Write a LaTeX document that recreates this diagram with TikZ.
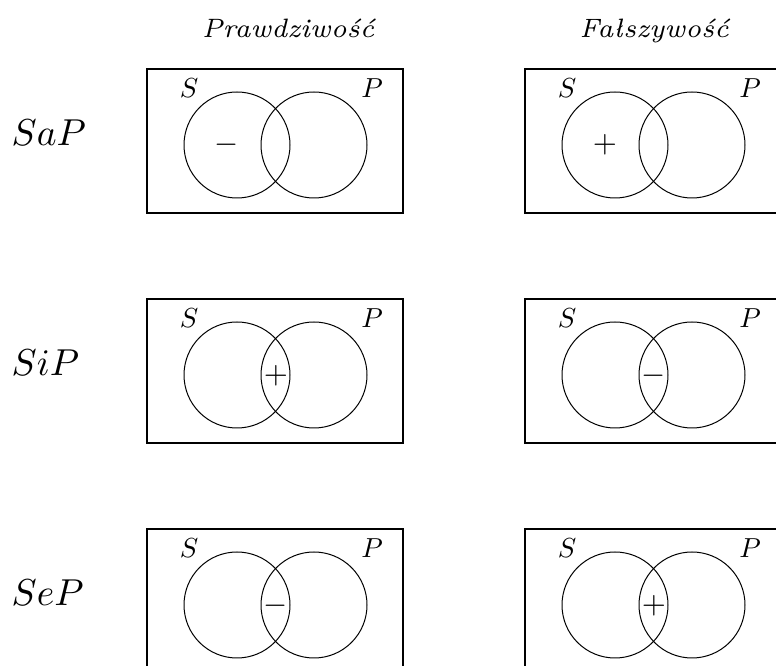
\documentclass[tikz,border=0pt]{standalone}
\begin{document}
\begin{tikzpicture}[x=1pt,y=1pt,
  frame/.style={draw=black,line width=1.1pt},
  venn/.style={draw=black,line width=1.0pt},
  lbl/.style={scale=2.75,anchor=base,inner sep=0pt},
  sign/.style={scale=3.1,inner sep=0pt},
  rowlbl/.style={scale=3.75,anchor=base west,inner sep=0pt},
  title/.style={scale=3.8,anchor=base,inner sep=0pt,font=\fontsize{7}{8}\selectfont\itshape}]
\useasboundingbox (0,0) rectangle (776,666);
\clip (0,0) rectangle (776,666);
% titles
\node[title] (t1) at (288,628) {Prawdziwość};
\node[title] (t2) at (654,628) {Fałszywość};
% row labels
\node[rowlbl] (r1) at (11,520) {$SaP$};
\node[rowlbl] (r2) at (11,290) {$SiP$};
\node[rowlbl] (r3) at (11,60) {$SeP$};
% boxes
\foreach \cx/\cy/\n in {237/521/a1, 615/521/b1, 237/291/a2, 615/291/b2, 237/61/a3, 615/61/b3}{
  \draw[frame] (\cx-90,\cy+76) rectangle (\cx+166,\cy-68);
  \node[venn,circle,minimum size=106pt,inner sep=0pt] (\n L) at (\cx,\cy) {};
  \node[venn,circle,minimum size=106pt,inner sep=0pt] (\n R) at (\cx+77,\cy) {};
  \node[lbl] (\n S) at (\cx-48,\cy+47) {$S$};
  \node[lbl] (\n P) at (\cx+135,\cy+47) {$P$};
}
% signs
\node[sign] (s1) at (227,521) {$-$};
\node[sign] (s2) at (605,521) {$+$};
\node[sign] (s3) at (276,290) {$+$};
\node[sign] (s4) at (654,290) {$-$};
\node[sign] (s5) at (276,60) {$-$};
\node[sign] (s6) at (654,60) {$+$};
\end{tikzpicture}
\end{document}
